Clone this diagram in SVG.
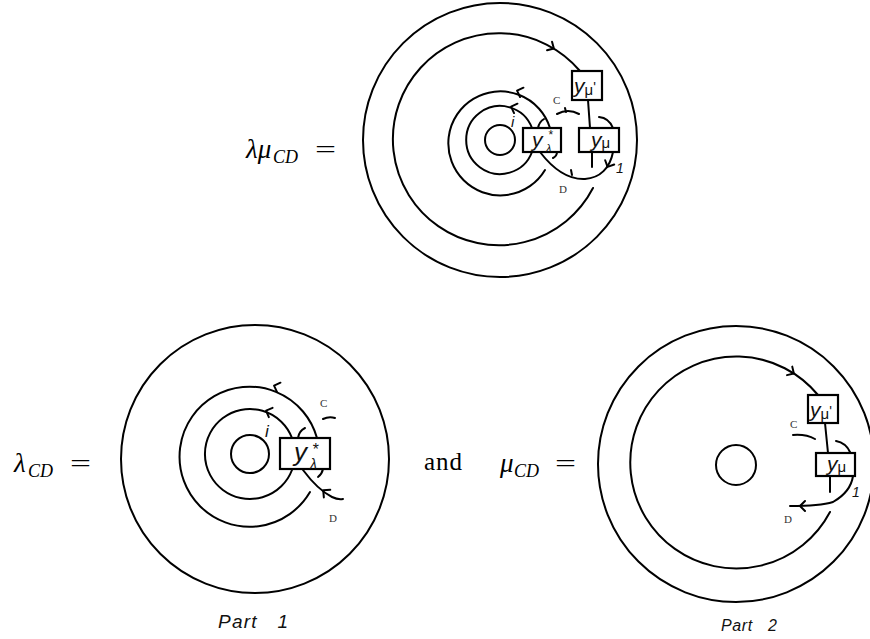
<svg xmlns="http://www.w3.org/2000/svg" xmlns:xlink="http://www.w3.org/1999/xlink" width="870" height="639" viewBox="0 0 870 639">
<style>
.ln{fill:none;stroke:#000;stroke-width:2;stroke-linecap:round}
.bx{fill:#fff;stroke:#000;stroke-width:2.2}
.m{font-family:"Liberation Serif","Times New Roman",serif;font-size:25px;fill:#000}
.mi{font-family:"Liberation Serif","Times New Roman",serif;font-style:italic;fill:#000}
.lb{font-family:"Liberation Sans",Arial,sans-serif;font-style:italic;fill:#111}
.sm{font-family:"Liberation Serif",serif;font-size:11px;fill:#333}
</style>
<defs>
<path id="chev" d="M-4,-5 L1,0 L-4,5" fill="none" stroke="#000" stroke-width="2" stroke-linecap="round" stroke-linejoin="round"/>
</defs>
<rect width="870" height="639" fill="#fff"/>

<g id="eq-top">
<text class="mi" x="246" y="158" font-size="27">λμ</text>
<text class="mi" x="273" y="163" font-size="18">CD</text>
<text class="m" x="315" y="158" textLength="21" lengthAdjust="spacingAndGlyphs">=</text>
</g>
<g id="eq-lambda">
<text class="mi" x="14" y="472" font-size="27">λ</text>
<text class="mi" x="28" y="477" font-size="18">CD</text>
<text class="m" x="70" y="472" textLength="21" lengthAdjust="spacingAndGlyphs">=</text>
</g>
<text class="m" x="424" y="470" textLength="38" lengthAdjust="spacing">and</text>
<g id="eq-mu">
<text class="mi" x="500" y="472" font-size="27">μ</text>
<text class="mi" x="514" y="477" font-size="18">CD</text>
<text class="m" x="555" y="472" textLength="21" lengthAdjust="spacingAndGlyphs">=</text>
</g>

<g id="connectors">
<!-- top figure -->
<circle class="ln" cx="500" cy="140" r="137"/>
<circle class="ln" cx="500" cy="140" r="15"/>
<path class="ln" d="M593,188 A106,106 0 1 1 580,71"/>
<path class="ln" d="M532,128 A34,34 0 1 0 532,152"/>
<path class="ln" d="M550,128 A52,52 0 1 0 545,170"/>
<path class="ln" d="M588,100 L590,128"/>
<path class="ln" d="M592,152 L592,167"/>
<path class="ln" d="M538,128 Q539,122 544,119"/>
<path class="ln" d="M553,158 Q557,156 557,152"/>
<path class="ln" d="M540,152 C550,165 565,180 585,179 C600,178 610,168 613,152"/>
<path class="ln" d="M571,170 L572,175"/>
<path class="ln" d="M557,114 Q568,108 579,114"/>
<path class="ln" d="M565,108 L566,112"/>
<path class="ln" d="M599,117 Q609,118 613,128"/>
<use xlink:href="#chev" transform="translate(553,48) rotate(30)"/>
<use xlink:href="#chev" transform="translate(512,107) rotate(200)"/>
<use xlink:href="#chev" transform="translate(518,91) rotate(200)"/>
<use xlink:href="#chev" transform="translate(608,166) rotate(115)"/>

<!-- bottom left -->
<circle class="ln" cx="255" cy="459" r="134"/>
<circle class="ln" cx="250" cy="454" r="19"/>
<path class="ln" d="M292,438 A45,45 0 1 0 292,470"/>
<path class="ln" d="M317,438 A70,70 0 1 0 310,492"/>
<path class="ln" d="M298,438 Q299,431 305,428"/>
<path class="ln" d="M318,477 Q322,474 323,469"/>
<path class="ln" d="M303,470 C312,482 322,492 332,497 Q338,500 343,499"/>
<path class="ln" d="M323,419 Q329,416 335,418"/>
<use xlink:href="#chev" transform="translate(267,411) rotate(202)"/>
<use xlink:href="#chev" transform="translate(275,386) rotate(200)"/>
<use xlink:href="#chev" transform="translate(324,491) rotate(220)"/>

<!-- bottom right -->
<circle class="ln" cx="736" cy="464" r="138"/>
<circle class="ln" cx="736" cy="465" r="20"/>
<path class="ln" d="M830,512 A106,106 0 1 1 818,395"/>
<path class="ln" d="M825,423 L828,453"/>
<path class="ln" d="M830,476 L830,492"/>
<path class="ln" d="M793,435 Q806,434 815,439"/>
<path class="ln" d="M836,441 Q846,443 850,452"/>
<path class="ln" d="M853,476 C851,490 840,498 833,502 Q820,506 790,506"/>
<use xlink:href="#chev" transform="translate(793,373) rotate(32)"/>
<use xlink:href="#chev" transform="translate(801,506) rotate(180)"/>
</g>

<g id="n-ymu1-top">
<rect class="bx" x="572" y="71" width="30" height="29"/>
<text class="lb" x="574" y="93" font-size="21">y<tspan font-style="normal" font-size="15" dy="2">μ</tspan><tspan font-style="normal" font-size="14" dy="-3">'</tspan></text>
</g>
<g id="n-ymu-top">
<rect class="bx" x="579" y="128" width="40" height="24"/>
<text class="lb" x="591" y="147" font-size="21">y<tspan font-style="normal" font-size="15" dy="1">μ</tspan></text>
</g>
<g id="n-ylam-top">
<rect class="bx" x="523" y="128" width="38" height="24"/>
<text class="lb" x="532" y="147" font-size="21">y</text>
<text class="lb" x="548" y="139" font-size="12" font-style="normal">*</text>
<text class="lb" x="546" y="152" font-size="11">λ</text>
</g>
<text class="lb" x="511" y="127" font-size="15">i</text>
<text class="sm" x="553" y="104">C</text>
<text class="sm" x="559" y="193">D</text>
<text class="lb" x="616" y="173" font-size="14">1</text>

<g id="n-ylam-left">
<rect class="bx" x="280" y="438" width="50" height="31"/>
<text class="lb" x="294" y="461" font-size="26">y</text>
<text class="lb" x="312" y="455" font-size="16" font-style="normal">*</text>
<text class="lb" x="310" y="469" font-size="14">λ</text>
</g>
<text class="lb" x="265" y="437" font-size="17">i</text>
<text class="sm" x="320" y="407" font-size="13">C</text>
<text class="sm" x="329" y="522" font-size="13">D</text>

<g id="n-ymu1-right">
<rect class="bx" x="808" y="395" width="30" height="28"/>
<text class="lb" x="810" y="417" font-size="21">y<tspan font-style="normal" font-size="15" dy="2">μ</tspan><tspan font-style="normal" font-size="14" dy="-3">'</tspan></text>
</g>
<g id="n-ymu-right">
<rect class="bx" x="816" y="453" width="39" height="23"/>
<text class="lb" x="827" y="471" font-size="21">y<tspan font-style="normal" font-size="15" dy="1">μ</tspan></text>
</g>
<text class="sm" x="790" y="428">C</text>
<text class="sm" x="784" y="523">D</text>
<text class="lb" x="852" y="497" font-size="14">1</text>

<text class="lb" x="218" y="628" font-size="19" textLength="70" lengthAdjust="spacing" xml:space="preserve">Part   1</text>
<text class="lb" x="721" y="631" font-size="16" textLength="56" lengthAdjust="spacing" xml:space="preserve">Part   2</text>
</svg>
